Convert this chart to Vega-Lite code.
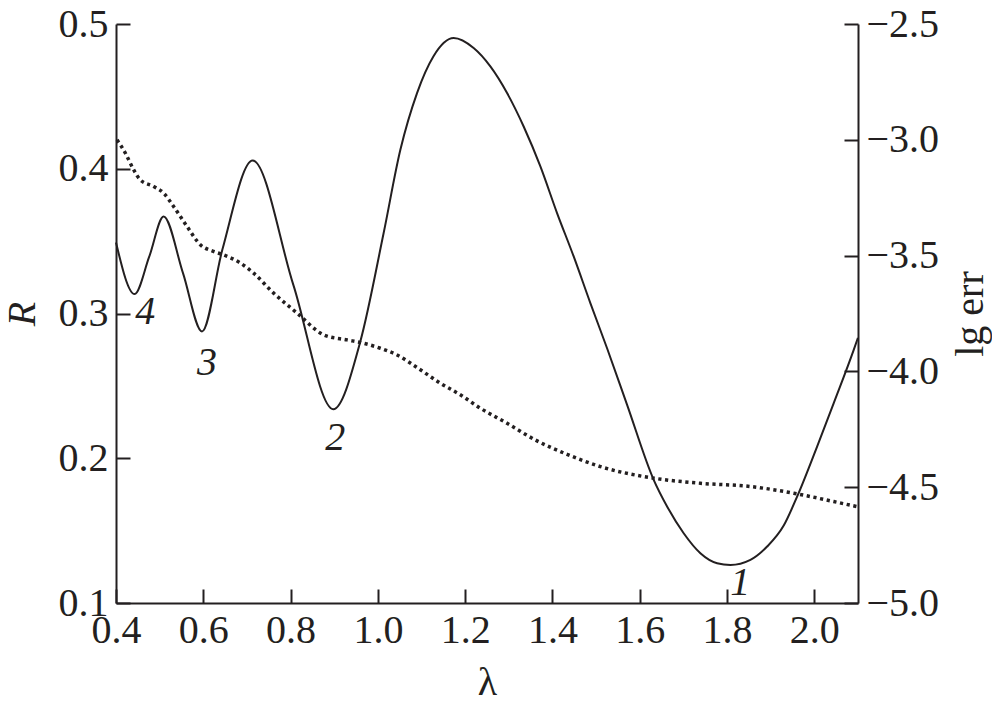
{
  "$schema": "https://vega.github.io/schema/vega-lite/v6.json",
  "width": 742,
  "height": 579,
  "autosize": {"type": "none"},
  "padding": {"left": 116, "top": 24, "right": 134, "bottom": 107},
  "background": "white",
  "config": {
    "view": {"stroke": null},
    "font": "Liberation Serif",
    "axis": {
      "domainColor": "#231f20",
      "domainWidth": 2,
      "tickColor": "#231f20",
      "tickWidth": 2,
      "tickSize": -14,
      "grid": false,
      "labelFlush": false,
      "labelOverlap": false,
      "labelFont": "Liberation Serif",
      "labelFontSize": 40,
      "labelColor": "#231f20",
      "titleFont": "Liberation Serif",
      "titleFontSize": 40,
      "titleFontWeight": "normal",
      "titleColor": "#231f20"
    }
  },
  "datasets": {
    "R": [
      {"lambda": 0.400, "R": 0.349},
      {"lambda": 0.4426, "R": 0.3134},
      {"lambda": 0.4763, "R": 0.3394},
      {"lambda": 0.5091, "R": 0.3670},
      {"lambda": 0.5535, "R": 0.3279},
      {"lambda": 0.5971, "R": 0.2876},
      {"lambda": 0.6436, "R": 0.344},
      {"lambda": 0.7130, "R": 0.4057},
      {"lambda": 0.8063, "R": 0.3198},
      {"lambda": 0.8979, "R": 0.2339},
      {"lambda": 0.9598, "R": 0.2807},
      {"lambda": 1.0132, "R": 0.3556},
      {"lambda": 1.0515, "R": 0.4131},
      {"lambda": 1.0897, "R": 0.4523},
      {"lambda": 1.1271, "R": 0.4776},
      {"lambda": 1.1736, "R": 0.4903},
      {"lambda": 1.2194, "R": 0.4834},
      {"lambda": 1.2577, "R": 0.4707},
      {"lambda": 1.2960, "R": 0.4523},
      {"lambda": 1.3340, "R": 0.4292},
      {"lambda": 1.3723, "R": 0.4016},
      {"lambda": 1.4105, "R": 0.3694},
      {"lambda": 1.4486, "R": 0.3394},
      {"lambda": 1.4868, "R": 0.3072},
      {"lambda": 1.5251, "R": 0.2760},
      {"lambda": 1.5710, "R": 0.2369},
      {"lambda": 1.6319, "R": 0.1851},
      {"lambda": 1.6626, "R": 0.1667},
      {"lambda": 1.7006, "R": 0.1482},
      {"lambda": 1.7389, "R": 0.1344},
      {"lambda": 1.7772, "R": 0.1275},
      {"lambda": 1.8077, "R": 0.1263},
      {"lambda": 1.8535, "R": 0.1298},
      {"lambda": 1.8918, "R": 0.1390},
      {"lambda": 1.9298, "R": 0.1535},
      {"lambda": 1.9605, "R": 0.1735},
      {"lambda": 2.0063, "R": 0.2081},
      {"lambda": 2.0444, "R": 0.2381},
      {"lambda": 2.0902, "R": 0.2749},
      {"lambda": 2.0998, "R": 0.2832}
    ],
    "err": [
      {"lambda": 0.4023, "lg": -3.000},
      {"lambda": 0.4213, "lg": -3.057},
      {"lambda": 0.4403, "lg": -3.129},
      {"lambda": 0.4557, "lg": -3.173},
      {"lambda": 0.4862, "lg": -3.2015},
      {"lambda": 0.5091, "lg": -3.230},
      {"lambda": 0.5320, "lg": -3.288},
      {"lambda": 0.5627, "lg": -3.374},
      {"lambda": 0.5932, "lg": -3.453},
      {"lambda": 0.6236, "lg": -3.482},
      {"lambda": 0.6466, "lg": -3.497},
      {"lambda": 0.6848, "lg": -3.532},
      {"lambda": 0.7153, "lg": -3.576},
      {"lambda": 0.7611, "lg": -3.662},
      {"lambda": 0.8148, "lg": -3.748},
      {"lambda": 0.8757, "lg": -3.842},
      {"lambda": 0.9293, "lg": -3.864},
      {"lambda": 0.9598, "lg": -3.875},
      {"lambda": 1.0056, "lg": -3.900},
      {"lambda": 1.0439, "lg": -3.929},
      {"lambda": 1.0973, "lg": -3.993},
      {"lambda": 1.1431, "lg": -4.051},
      {"lambda": 1.1889, "lg": -4.101},
      {"lambda": 1.2348, "lg": -4.159},
      {"lambda": 1.2960, "lg": -4.224},
      {"lambda": 1.3647, "lg": -4.300},
      {"lambda": 1.4335, "lg": -4.358},
      {"lambda": 1.5098, "lg": -4.411},
      {"lambda": 1.6319, "lg": -4.461},
      {"lambda": 1.7390, "lg": -4.483},
      {"lambda": 1.8535, "lg": -4.497},
      {"lambda": 1.9527, "lg": -4.526},
      {"lambda": 2.0444, "lg": -4.562},
      {"lambda": 2.0980, "lg": -4.584}
    ],
    "labels": [
      {"lambda": 0.4671, "R": 0.301, "label": "4"},
      {"lambda": 0.6085, "R": 0.2657, "label": "3"},
      {"lambda": 0.9025, "R": 0.2139, "label": "2"},
      {"lambda": 1.8305, "R": 0.1137, "label": "1"}
    ]
  },
  "encoding": {
    "x": {
      "field": "lambda",
      "type": "quantitative",
      "scale": {"domain": [0.4, 2.1], "nice": false, "zero": false},
      "axis": {
        "title": "λ",
        "values": [0.4, 0.6, 0.8, 1.0, 1.2, 1.4, 1.6, 1.8, 2.0],
        "format": ".1f",
        "labelPadding": 21,
        "titlePadding": 12
      }
    }
  },
  "layer": [
    {
      "data": {"name": "R"},
      "mark": {"type": "line", "interpolate": "monotone", "color": "#231f20", "strokeWidth": 2},
      "encoding": {
        "y": {
          "field": "R",
          "type": "quantitative",
          "scale": {"domain": [0.1, 0.5], "nice": false, "zero": false},
          "axis": {
            "orient": "left",
            "title": "R",
            "titleFontStyle": "italic",
            "values": [0.1, 0.2, 0.3, 0.4, 0.5],
            "format": ".1f",
            "labelPadding": 22,
            "titlePadding": 16
          }
        }
      }
    },
    {
      "data": {"name": "err"},
      "mark": {"type": "line", "interpolate": "monotone", "color": "#231f20", "strokeWidth": 3.5, "strokeDash": [3.2, 3.6]},
      "encoding": {
        "y": {
          "field": "lg",
          "type": "quantitative",
          "scale": {"domain": [-5.0, -2.5], "nice": false, "zero": false},
          "axis": {
            "orient": "right",
            "title": "lg err",
            "titleAngle": -90,
            "titleBaseline": "top",
            "values": [-5.0, -4.5, -4.0, -3.5, -3.0, -2.5],
            "format": ".1f",
            "labelPadding": 22,
            "titlePadding": 12
          }
        }
      }
    },
    {
      "data": {"name": "labels"},
      "mark": {"type": "text", "font": "Liberation Serif", "fontSize": 40, "fontStyle": "italic", "color": "#231f20", "align": "center", "baseline": "middle"},
      "encoding": {
        "y": {
          "field": "R",
          "type": "quantitative",
          "scale": {"domain": [0.1, 0.5], "nice": false, "zero": false},
          "axis": null
        },
        "text": {"field": "label", "type": "nominal"}
      }
    }
  ],
  "resolve": {"scale": {"y": "independent"}}
}
